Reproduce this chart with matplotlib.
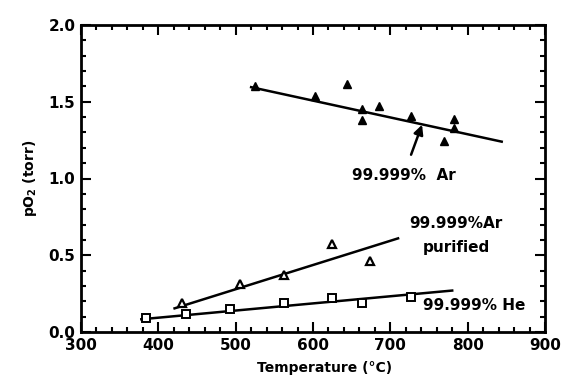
import matplotlib
matplotlib.use("Agg")
import matplotlib.pyplot as plt
from matplotlib.ticker import MultipleLocator, FormatStrFormatter

plt.rcParams['font.family'] = ['DejaVu Sans']
plt.rcParams['font.weight'] = 'bold'
plt.rcParams['mathtext.fontset'] = 'dejavusans'

# 99.999% Ar
ar_T = [525, 603, 644, 663, 663, 685, 727, 782, 782, 769]
ar_p = [1.60, 1.54, 1.615, 1.45, 1.38, 1.47, 1.41, 1.385, 1.33, 1.245]
ar_fit_T = [520, 844]
ar_fit_p = [1.595, 1.24]

# 99.999% Ar purified
arp_T = [430, 506, 563, 625, 674]
arp_p = [0.187, 0.31, 0.371, 0.573, 0.465]
arp_fit_T = [421, 710]
arp_fit_p = [0.154, 0.61]

# 99.999% He
he_T = [384, 436, 493, 563, 624, 663, 727]
he_p = [0.093, 0.117, 0.148, 0.187, 0.224, 0.187, 0.23]
he_fit_T = [378, 780]
he_fit_p = [0.083, 0.27]

fig = plt.figure(figsize=(5.67, 3.76), dpi=100)
ax = fig.add_axes([81/567, 1-332/376, 464/567, 307/376])

ax.plot(ar_fit_T, ar_fit_p, color='black', lw=1.8)
ax.plot(arp_fit_T, arp_fit_p, color='black', lw=1.8)
ax.plot(he_fit_T, he_fit_p, color='black', lw=1.8)

ax.plot(ar_T, ar_p, linestyle='none', marker='^', ms=6, mfc='black', mec='black')
ax.plot(arp_T, arp_p, linestyle='none', marker='^', ms=6, mfc='white', mec='black', mew=1.6)
ax.plot(he_T, he_p, linestyle='none', marker='s', ms=5.5, mfc='white', mec='black', mew=1.4)

ax.annotate('99.999%  Ar', xy=(741, 1.35), xytext=(717, 1.02),
            ha='center', va='center', fontsize=11, fontweight='bold',
            arrowprops=dict(arrowstyle='-|>', color='black', lw=1.8,
                            mutation_scale=14, shrinkA=8, shrinkB=0))
ax.text(785, 0.71, '99.999%Ar', ha='center', va='center', fontsize=11, fontweight='bold')
ax.text(785, 0.553, 'purified', ha='center', va='center', fontsize=11, fontweight='bold')
ax.text(809, 0.17, '99.999% He', ha='center', va='center', fontsize=11, fontweight='bold')

ax.set_xlim(300, 900)
ax.set_ylim(0, 2.0)
ax.xaxis.set_major_locator(MultipleLocator(100))
ax.xaxis.set_minor_locator(MultipleLocator(20))
ax.yaxis.set_major_locator(MultipleLocator(0.5))
ax.yaxis.set_minor_locator(MultipleLocator(0.1))
ax.yaxis.set_major_formatter(FormatStrFormatter('%.1f'))
ax.tick_params(which='both', direction='in', top=True, right=True, width=1.5)
ax.tick_params(which='major', length=7, labelsize=11, pad=4)
ax.tick_params(which='minor', length=3.5)
for lab in ax.get_xticklabels() + ax.get_yticklabels():
    lab.set_fontweight('bold')
for s in ax.spines.values():
    s.set_linewidth(2)

ax.set_xlabel('Temperature (°C)', fontsize=10, fontweight='bold', labelpad=1)
ax.xaxis.set_label_coords((325 - 81) / 464, -0.095)
ax.set_ylabel('pO$_\\mathbf{2}$ (torr)', fontsize=10, fontweight='bold', labelpad=7)

fig.savefig('out.png', dpi=100)
